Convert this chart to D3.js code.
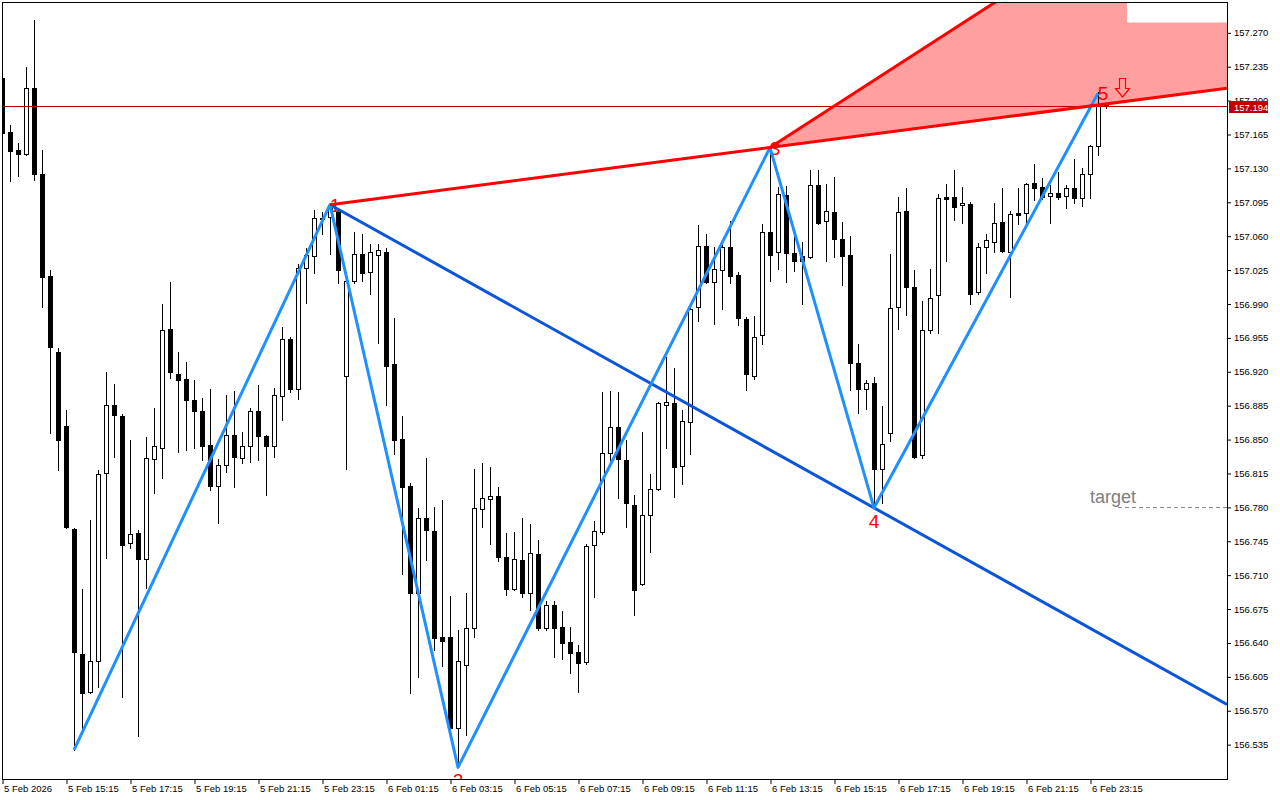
<!DOCTYPE html>
<html><head><meta charset="utf-8">
<script src="https://cdn.jsdelivr.net/npm/d3@7"></script>
<style>body{margin:0;background:#fff}svg{display:block}</style>
</head><body><svg id="c" width="1280" height="800"></svg>
<script>
// ---------- data ----------
const startTime = "2026-02-05 13:15";
const barMinutes = 15;
const opens = [157.223,157.167,157.148,157.144,157.212,157.124,157.018,156.940,156.864,156.757,
156.628,156.589,156.621,156.815,156.885,156.874,156.743,156.753,156.726,156.829,
156.841,156.964,156.917,156.912,156.890,156.879,156.844,156.802,156.823,156.854,
156.830,156.843,156.879,156.853,156.843,156.894,156.953,156.902,157.027,157.039,
157.078,157.079,157.086,156.915,157.013,157.041,157.022,157.040,157.043,156.927,
156.850,156.802,156.691,156.768,156.755,156.646,156.646,156.552,156.617,156.655,
156.778,156.788,156.791,156.728,156.695,156.725,156.691,156.731,156.655,156.679,
156.656,156.640,156.630,156.620,156.741,156.754,156.836,156.862,156.828,156.782,
156.700,156.772,156.798,156.885,156.887,156.822,156.868,156.986,157.049,157.012,
157.025,157.048,157.019,156.974,156.915,156.957,157.064,157.043,157.102,157.042,
157.039,157.038,157.112,157.075,157.084,157.057,157.040,156.929,156.902,156.908,
156.819,156.856,156.986,157.085,157.007,156.834,156.963,156.999,157.100,157.100,
157.092,157.093,157.002,157.048,157.054,157.074,157.043,157.083,157.083,157.114,
157.110,157.101,157.104,157.101,157.109,157.099,157.124,157.153,157.196];
const highs = [157.227,157.174,157.156,157.234,157.283,157.148,157.025,156.944,156.880,156.758,
156.695,156.766,156.818,156.919,156.907,156.876,156.849,156.756,156.852,156.882,
156.989,157.012,156.940,156.930,156.911,156.892,156.902,156.829,156.895,156.900,
156.857,156.882,156.906,156.854,156.903,156.966,156.955,157.031,157.047,157.087,
157.084,157.092,157.088,157.014,157.064,157.062,157.051,157.051,157.047,156.975,
156.874,156.805,156.779,156.830,156.780,156.787,156.688,156.653,156.691,156.819,
156.825,156.821,156.800,156.753,156.754,156.768,156.762,156.746,156.683,156.683,
156.672,156.656,156.637,156.742,156.765,156.899,156.900,156.899,156.849,156.792,
156.857,156.814,156.888,156.935,156.923,156.880,156.985,157.071,157.062,157.048,
157.053,157.075,157.023,156.976,156.977,157.072,157.151,157.110,157.111,157.060,
157.053,157.128,157.128,157.113,157.121,157.074,157.060,156.948,156.911,156.914,
156.884,157.041,157.100,157.109,157.025,156.993,157.026,157.103,157.113,157.128,
157.110,157.095,157.052,157.062,157.094,157.109,157.086,157.109,157.114,157.134,
157.120,157.112,157.126,157.112,157.139,157.130,157.154,157.208,157.197];
const lows = [157.158,157.116,157.122,157.143,157.117,156.986,156.856,156.818,156.758,156.529,
156.549,156.588,156.594,156.727,156.832,156.584,156.738,156.543,156.696,156.794,
156.810,156.913,156.837,156.839,156.841,156.828,156.797,156.763,156.816,156.800,
156.825,156.826,156.828,156.792,156.832,156.870,156.899,156.891,156.991,157.021,
157.062,157.041,157.011,156.819,157.011,157.013,157.000,156.949,156.885,156.835,
156.711,156.588,156.604,156.725,156.632,156.616,156.551,156.511,156.544,156.646,
156.759,156.742,156.724,156.689,156.694,156.687,156.674,156.653,156.653,156.625,
156.623,156.608,156.589,156.618,156.687,156.752,156.828,156.789,156.759,156.668,
156.699,156.733,156.797,156.841,156.790,156.804,156.835,156.972,157.011,156.969,
156.984,157.011,156.968,156.901,156.912,156.948,157.013,157.026,157.012,157.024,
156.989,157.037,157.072,157.034,157.038,157.009,156.901,156.877,156.881,156.779,
156.784,156.848,156.964,156.978,156.830,156.830,156.960,156.960,157.034,157.076,
157.073,156.989,157.000,157.021,157.043,157.043,156.997,157.072,157.073,157.097,
157.098,157.073,157.098,157.089,157.094,157.091,157.099,157.143,157.192];
const closes = [157.166,157.147,157.144,157.213,157.124,157.017,156.945,156.849,156.759,156.630,
156.588,156.621,156.814,156.885,156.875,156.741,156.752,156.726,156.830,156.843,
156.963,156.919,156.911,156.890,156.879,156.843,156.802,156.823,156.854,156.831,
156.843,156.879,156.853,156.843,156.896,156.953,156.902,157.027,157.040,157.078,
157.077,157.089,157.025,157.013,157.041,157.021,157.043,157.045,156.925,156.849,
156.800,156.691,156.768,156.756,156.645,156.642,156.552,156.621,156.655,156.779,
156.789,156.791,156.728,156.695,156.726,156.691,156.732,156.655,156.679,156.655,
156.639,156.629,156.619,156.740,156.755,156.836,156.862,156.829,156.784,156.694,
156.772,156.798,156.887,156.888,156.821,156.869,156.984,157.049,157.012,157.026,
157.048,157.018,156.975,156.917,156.955,157.064,157.040,157.103,157.042,157.034,
157.034,157.112,157.073,157.085,157.057,157.039,156.929,156.902,156.908,156.819,
156.845,156.985,157.084,157.007,156.832,156.963,156.996,157.099,157.098,157.090,
157.094,157.000,157.048,157.056,157.073,157.044,157.082,157.081,157.113,157.109,
157.100,157.104,157.100,157.109,157.099,157.124,157.153,157.195,157.194];

const xTickTimes = ["2026-02-05 13:15","2026-02-05 15:15","2026-02-05 17:15","2026-02-05 19:15",
"2026-02-05 21:15","2026-02-05 23:15","2026-02-06 01:15","2026-02-06 03:15","2026-02-06 05:15",
"2026-02-06 07:15","2026-02-06 09:15","2026-02-06 11:15","2026-02-06 13:15","2026-02-06 15:15",
"2026-02-06 17:15","2026-02-06 19:15","2026-02-06 21:15","2026-02-06 23:15"];
const xTickLabels = ["5 Feb 2026","5 Feb 15:15","5 Feb 17:15","5 Feb 19:15","5 Feb 21:15",
"5 Feb 23:15","6 Feb 01:15","6 Feb 03:15","6 Feb 05:15","6 Feb 07:15","6 Feb 09:15",
"6 Feb 11:15","6 Feb 13:15","6 Feb 15:15","6 Feb 17:15","6 Feb 19:15","6 Feb 21:15","6 Feb 23:15"];
const yTicks = [157.270,157.235,157.200,157.165,157.130,157.095,157.060,157.025,156.990,156.955,
156.920,156.885,156.850,156.815,156.780,156.745,156.710,156.675,156.640,156.605,156.570,156.535];
const priceMin = 156.499, priceMax = 157.3013;

const patternNames = ["X","1","2","3","4","5"];
const patternBars = [9,41,57,96,109,137];
const patternPrices = [156.529,157.092,156.511,157.151,156.779,157.207];
const patternIsHigh = [false,true,false,true,false,true];
const upperRayBar = 138, upperRayPrice = 157.375;   // second anchor of the steep red ray from point 3
const currentPrice = 157.194;
const targetPrice = 156.780, targetText = "target", targetStartBar = 139.5;

// ---------- layout ----------
const L = 2, T = 2, R = 1227, B = 779;
const svg = d3.select("#c");
svg.append("rect").attr("width",1280).attr("height",800).attr("fill","#fff");

const parse = d3.timeParse("%Y-%m-%d %H:%M");
const t0 = parse(startTime);
const barTime = i => d3.timeMinute.offset(t0, Math.round(i*barMinutes*60)/60);
const barTimeF = i => new Date(t0.getTime() + i*barMinutes*60000);
const n = closes.length;
const x = d3.scaleTime().domain([t0, barTimeF(n-1)]).range([2, 2 + 8*(n-1)]);
const y = d3.scaleLinear().domain([priceMin, priceMax]).range([B, T]);
const xb = i => x(barTimeF(i));

svg.append("defs").append("clipPath").attr("id","plot")
  .append("rect").attr("x",L+1).attr("y",T+1).attr("width",R-L-1).attr("height",B-T-1);
const g = svg.append("g").attr("clip-path","url(#plot)");

// line helpers (extend in bar space to the right edge)
const rightBar = (x.invert(R).getTime() - t0.getTime())/(barMinutes*60000);
function extend(b1,p1,b2,p2,bEnd){ return p1 + (p2-p1)*(bEnd-b1)/(b2-b1); }

// reversal zone fill
const p1i=1,p3i=3;
const lowEnd = extend(patternBars[p1i],patternPrices[p1i],patternBars[p3i],patternPrices[p3i],rightBar);
const upEnd = extend(patternBars[p3i],patternPrices[p3i],upperRayBar,upperRayPrice,rightBar);
g.append("path")
  .attr("d", d3.line()([[xb(patternBars[p3i]),y(patternPrices[p3i])],[xb(rightBar),y(upEnd)],[xb(rightBar),y(lowEnd)]]) + "Z")
  .attr("fill","#ffa0a0");
g.append("rect").attr("x",1127).attr("y",T).attr("width",R-1127).attr("height",20.5).attr("fill","#fff");

// candles
const candles = g.append("g").attr("shape-rendering","crispEdges");
d3.range(n).forEach(i=>{
  const cx = Math.round(xb(i));
  candles.append("line").attr("x1",cx+0.5).attr("x2",cx+0.5)
    .attr("y1",Math.round(y(highs[i]))).attr("y2",Math.round(y(lows[i]))+1)
    .attr("stroke","#000").attr("stroke-width",1);
  const top = Math.round(y(Math.max(opens[i],closes[i])));
  const bot = Math.round(y(Math.min(opens[i],closes[i])));
  const up = closes[i] > opens[i];
  candles.append("rect").attr("x",cx-1.5).attr("y",top+0.5).attr("width",4)
    .attr("height",Math.max(1,bot-top)).attr("fill",up?"#fff":"#000").attr("stroke","#000");
});

// current price line
g.append("line").attr("x1",L).attr("x2",R).attr("y1",Math.round(y(currentPrice))+0.5).attr("y2",Math.round(y(currentPrice))+0.5)
  .attr("stroke","#b40000").attr("stroke-width",1).attr("shape-rendering","crispEdges");

// point labels
patternNames.forEach((nm,k)=>{
  if(nm==="X") return;
  const px = xb(patternBars[k]), py = y(patternPrices[k]);
  g.append("text").text(nm)
    .attr("x", patternIsHigh[k] ? px+5 : px)
    .attr("y", patternIsHigh[k] ? py+7 : py+20)
    .attr("text-anchor","middle").attr("fill","#ff0000")
    .attr("font-family","'Liberation Sans',Arial,sans-serif").attr("font-size",19);
});

// lines
g.append("path").attr("d", d3.line()([[xb(patternBars[1]),y(patternPrices[1])],[xb(rightBar),y(extend(patternBars[1],patternPrices[1],patternBars[4],patternPrices[4],rightBar))]]))
  .attr("stroke","#0a55d8").attr("stroke-width",3).attr("fill","none");
g.append("path").attr("d", d3.line()(patternBars.map((b,k)=>[xb(b),y(patternPrices[k])])))
  .attr("stroke","#1e90ff").attr("stroke-width",3).attr("fill","none").attr("stroke-linejoin","round");
g.append("path").attr("d", d3.line()([[xb(patternBars[1]),y(patternPrices[1])],[xb(rightBar),y(lowEnd)]]))
  .attr("stroke","#ff0000").attr("stroke-width",3).attr("fill","none");
g.append("path").attr("d", d3.line()([[xb(patternBars[3]),y(patternPrices[3])],[xb(rightBar),y(upEnd)]]))
  .attr("stroke","#ff0000").attr("stroke-width",3).attr("fill","none");

// sell arrow
const ax = Math.round(xb(patternBars[5]))+17, ay = Math.round(y(patternPrices[5]))-15;
g.append("path").attr("d",`M${ax+4.5},${ay+0.5}h6v10h4l-7,8.5l-7,-8.5h4z`)
  .attr("fill","none").attr("stroke","#ff0000").attr("stroke-width",1.2);

// target
const ty = Math.round(y(targetPrice))+0.5;
g.append("line").attr("x1",xb(targetStartBar)).attr("x2",R).attr("y1",ty).attr("y2",ty)
  .attr("stroke","#8c8c8c").attr("stroke-dasharray","4,3").attr("stroke-width",1);
g.append("text").text(targetText).attr("x",1090).attr("y",ty-4.5)
  .attr("fill","#808080").attr("font-family","'Liberation Sans',Arial,sans-serif").attr("font-size",18);

// border
svg.append("rect").attr("x",L+0.5).attr("y",T+0.5).attr("width",R-L).attr("height",B-T)
  .attr("fill","none").attr("stroke","#000").attr("shape-rendering","crispEdges");

// axes
const xAxis = svg.append("g").attr("transform",`translate(0.5,${B})`)
  .call(d3.axisBottom(x).tickValues(xTickTimes.map(parse)).tickFormat((d,i)=>xTickLabels[i]).tickSize(5));
xAxis.select(".domain").remove();
xAxis.selectAll("line").attr("stroke","#000");
xAxis.selectAll("text").attr("text-anchor","start").attr("x",1).attr("y",13).attr("dy",0)
  .attr("font-family","'Liberation Sans',Arial,sans-serif").attr("font-size",9.5).attr("fill","#000");

const yAxis = svg.append("g").attr("transform",`translate(${R},0.5)`)
  .call(d3.axisRight(y).tickValues(yTicks).tickFormat(d3.format(".3f")).tickSize(4));
yAxis.select(".domain").remove();
yAxis.selectAll("line").attr("stroke","#000");
yAxis.selectAll("text").attr("x",7).attr("font-family","'Liberation Sans',Arial,sans-serif").attr("font-size",9.5).attr("fill","#000");

// current price tag
const cy = Math.round(y(currentPrice));
svg.append("rect").attr("x",R+2).attr("y",cy-5).attr("width",39).attr("height",12).attr("fill","#c00000");
svg.append("text").text(d3.format(".3f")(currentPrice)).attr("x",R+7).attr("y",cy+4.5)
  .attr("fill","#fff").attr("font-family","'Liberation Sans',Arial,sans-serif").attr("font-size",9.5);
</script></body></html>
